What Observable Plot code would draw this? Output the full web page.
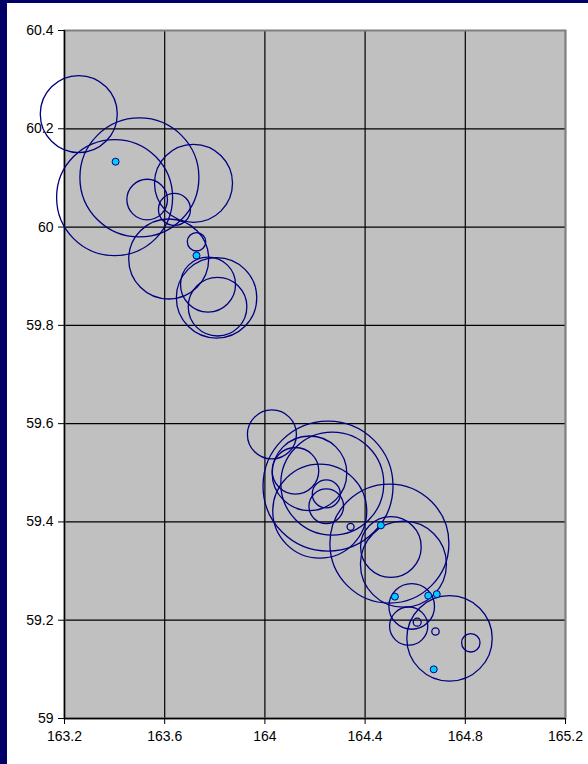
<!DOCTYPE html>
<html>
<head>
<meta charset="utf-8">
<script src="https://cdn.jsdelivr.net/npm/d3@7"></script>
<script src="https://cdn.jsdelivr.net/npm/@observablehq/plot@0.6"></script>
<style>
  html, body { margin: 0; padding: 0; background: #ffffff; overflow: hidden; }
  #frame {
    width: 581px; height: 761px;
    border-left: 7px solid #000066;
    border-top: 3px solid #000066;
    background: #ffffff;
  }
  #frame svg { display: block; }
</style>
</head>
<body>
<div id="frame"></div>
<script>
// Tick values
const xTicks = [163.2, 163.6, 164, 164.4, 164.8, 165.2];
const yTicks = [59, 59.2, 59.4, 59.6, 59.8, 60, 60.2, 60.4];

// Hollow bubbles: longitude, latitude, bubble size
const bubbleLon = [163.257, 163.499, 163.400, 163.715, 163.530, 163.639, 163.616, 163.727,
  163.807, 163.773, 163.811, 164.028, 164.252, 164.269, 164.122, 164.178, 164.219,
  164.245, 164.245, 164.342, 164.497, 164.503, 164.553, 164.586, 164.574, 164.608,
  164.681, 164.737, 164.822];
const bubbleLat = [60.230, 60.101, 60.060, 60.089, 60.056, 60.036, 59.935, 59.970,
  59.856, 59.883, 59.838, 59.578, 59.473, 59.478, 59.504, 59.499, 59.422,
  59.457, 59.432, 59.390, 59.356, 59.349, 59.314, 59.228, 59.188, 59.196,
  59.177, 59.163, 59.154];
const bubbleSize = [38.5, 59.5, 58, 39, 20.3, 16, 40, 9.2,
  40.2, 27.5, 29.3, 24.5, 65, 51.5, 23.3, 37.3, 47,
  14, 17.3, 3.5, 59.5, 30.3, 43, 22.8, 19.1, 4,
  3.7, 42.7, 9.2];

// Filled points: longitude, latitude
const pointLon = [163.404, 163.727, 164.463, 164.519, 164.652, 164.686, 164.674];
const pointLat = [60.133, 59.942, 59.393, 59.248, 59.250, 59.253, 59.100];

const bubbles = bubbleLon.map((x, i) => ({x, y: bubbleLat[i], size: bubbleSize[i]}));
const points = pointLon.map((x, i) => ({x, y: pointLat[i]}));

const fmt = d => String(+d.toFixed(1));

const chart = Plot.plot({
  width: 581,
  height: 761,
  marginLeft: 57,
  marginTop: 27,
  marginRight: 23,
  marginBottom: 46,
  style: {fontFamily: "'Liberation Sans', Arial, sans-serif", fontSize: "14px", color: "#000", background: "transparent"},
  x: {domain: [163.2, 165.2], axis: null},
  y: {domain: [59, 60.4], axis: null},
  r: {type: "identity"},
  marks: [
    Plot.frame({fill: "#c0c0c0", stroke: "none"}),
    Plot.ruleX(xTicks, {stroke: "#000", strokeWidth: 1.2}),
    Plot.ruleY(yTicks, {stroke: "#000", strokeWidth: 1.2}),
    Plot.frame({stroke: "#808080", strokeWidth: 2}),
    Plot.ruleX([xTicks[0]], {stroke: "#000", strokeWidth: 1.3}),
    Plot.ruleY([yTicks[0]], {stroke: "#000", strokeWidth: 1.3}),
    Plot.axisX(xTicks, {tickSize: 6, tickPadding: 7, tickFormat: fmt, fontSize: 14, stroke: "#000", label: null}),
    Plot.axisY(yTicks, {tickSize: 6, tickPadding: 5, tickFormat: fmt, fontSize: 14, stroke: "#000", label: null}),
    Plot.dot(bubbles, {x: "x", y: "y", r: "size", stroke: "#000080", strokeWidth: 1.3, fill: "none"}),
    Plot.dot(points, {x: "x", y: "y", r: 3.5, fill: "#00ccff", stroke: "#000080", strokeWidth: 1})
  ]
});
document.getElementById("frame").appendChild(chart);
</script>
</body>
</html>
